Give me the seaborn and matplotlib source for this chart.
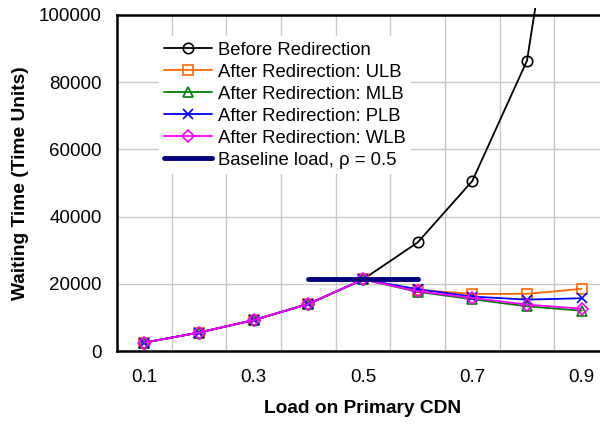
import matplotlib
matplotlib.use("Agg")
import matplotlib.pyplot as plt
import matplotlib.transforms as mtransforms
import seaborn as sns
import pandas as pd
import numpy as np

# values
loads = ["0.1", "0.2", "0.3", "0.4", "0.5", "0.6", "0.7", "0.8", "0.9"]
before = [2500, 5500, 9200, 14000, 21300, 32300, 50600, 86400, 190000]
ulb = [2500, 5500, 9200, 14000, 21300, 18200, 17000, 17000, 18500]
mlb = [2500, 5500, 9200, 14000, 21300, 17600, 15400, 13300, 12000]
plb = [2500, 5500, 9200, 14000, 21300, 18400, 16200, 15300, 15700]
wlb = [2500, 5500, 9200, 14000, 21300, 17800, 15800, 13800, 12600]
baseline_loads = ["0.4", "0.6"]
baseline_wait = [21500, 21500]

series = [
    ("Before Redirection", before, "black", "o"),
    ("After Redirection: ULB", ulb, "#FF6600", "s"),
    ("After Redirection: MLB", mlb, "#008000", "^"),
    ("After Redirection: PLB", plb, "#0000FF", "x"),
    ("After Redirection: WLB", wlb, "#FF00FF", "D"),
]

sns.set_style("white")
plt.rcParams['font.family'] = ['Liberation Sans', 'DejaVu Sans']
plt.rcParams['text.color'] = 'black'
plt.rcParams['axes.labelcolor'] = 'black'
plt.rcParams['xtick.color'] = 'black'
plt.rcParams['ytick.color'] = 'black'

pos = np.arange(len(loads))
fig = plt.figure(figsize=(6, 4.26), dpi=100)
ax = fig.add_axes([0.195, 0.176, 0.82, 0.789])

for name, vals, col, mk in series:
    df = pd.DataFrame({"x": pos, "y": vals})
    ms = 7.5 if mk != "D" else 6
    sns.lineplot(data=df, x="x", y="y", ax=ax, color=col, marker=mk,
                 markersize=ms, markerfacecolor="none", markeredgecolor=col,
                 markeredgewidth=1.2, linewidth=1.3, label=name)

bx = [loads.index(v) for v in baseline_loads]
sns.lineplot(x=bx, y=baseline_wait, ax=ax, color="#000080", linewidth=3.5,
             label="Baseline load, \u03c1 = 0.5")

# let the steep curve poke a little above the frame like the original
clip = mtransforms.TransformedBbox(mtransforms.Bbox([[0, 0], [1, 1.022]]), ax.transAxes)
ax.lines[0].set_clip_box(clip)

ax.set_xlim(-0.5, len(loads) - 0.5)
ax.set_ylim(0, 100000)
ax.set_xticks(pos[::2])
ax.set_xticklabels(loads[::2])
ax.set_xticks(np.arange(-0.5, len(loads), 1), minor=True)
ax.set_yticks(np.arange(0, 100001, 20000))
ax.tick_params(axis="both", which="both", length=0, labelsize=13.5)
ax.tick_params(axis="x", pad=13)
ax.tick_params(axis="y", pad=11)
ax.grid(False)
ax.grid(axis="x", which="minor", color="#C8C8C8", linewidth=1)
ax.grid(axis="y", which="major", color="#C8C8C8", linewidth=1)
ax.set_axisbelow(True)
for s in ax.spines.values():
    s.set_color("black")
    s.set_linewidth(1.8)

ax.set_xlabel("Load on Primary CDN", fontsize=13.8, fontweight="bold", labelpad=10)
ax.set_ylabel("Waiting Time (Time Units)", fontsize=13.8, fontweight="bold", labelpad=7)

leg = ax.legend(loc="upper left", bbox_to_anchor=(0.085, 0.937), fontsize=13.3,
                frameon=True, handlelength=2.6, handletextpad=0.3,
                labelspacing=0.27, borderpad=0.3, borderaxespad=0)
leg.get_frame().set_facecolor("white")
leg.get_frame().set_edgecolor("none")
leg.get_frame().set_alpha(1)

fig.savefig("out.png", dpi=100)
